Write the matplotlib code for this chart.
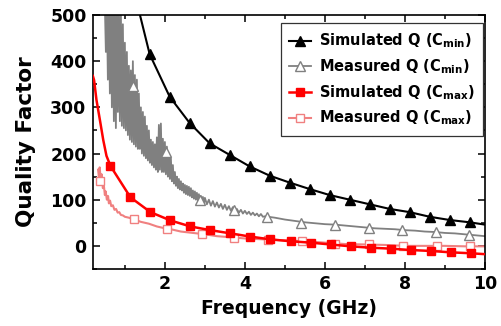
import matplotlib
matplotlib.use("Agg")
import matplotlib.pyplot as plt
from matplotlib.ticker import MultipleLocator

plt.rcParams['font.family'] = ['DejaVu Sans']
plt.rcParams['font.weight'] = 'bold'
plt.rcParams['mathtext.fontset'] = 'custom'
plt.rcParams['mathtext.rm'] = 'DejaVu Sans:bold'
plt.rcParams['mathtext.bf'] = 'DejaVu Sans:bold'
plt.rcParams['mathtext.it'] = 'DejaVu Sans:bold'

# ---- Simulated Q (Cmin): black filled triangles
sim_cmin_f = [1.12, 1.62, 2.12, 2.62, 3.12, 3.62, 4.12, 4.62, 5.12, 5.62, 6.12,
              6.62, 7.12, 7.62, 8.12, 8.62, 9.12, 9.62]
sim_cmin_q = [590, 415, 323, 266, 222, 197, 172, 152, 137, 123, 110,
              100, 90, 80, 73, 63, 56, 51]
sim_cmin_end_f = [10.0]
sim_cmin_end_q = [46]

# ---- Measured Q (Cmin): gray noisy trace (upper/lower swing per step)
meas_cmin_noisy_f = [0.50, 0.55, 0.60, 0.65, 0.70, 0.75, 0.80, 0.85, 0.90, 0.95,
                     1.00, 1.05, 1.10, 1.15, 1.20, 1.25, 1.30, 1.35, 1.40, 1.45,
                     1.50, 1.55, 1.60, 1.65, 1.70, 1.75, 1.80, 1.85, 1.90, 1.95,
                     2.00, 2.05, 2.10, 2.15, 2.20, 2.25, 2.30, 2.35, 2.40, 2.45,
                     2.50, 2.55, 2.60, 2.65, 2.70, 2.75, 2.80, 2.85, 2.90, 2.95]
meas_cmin_hi = [520, 520, 520, 520, 520, 520, 520, 520, 510, 480,
                440, 420, 390, 380, 400, 370, 360, 330, 300, 290,
                280, 260, 250, 230, 225, 220, 235, 262, 265, 232,
                225, 215, 200, 190, 175, 160, 150, 145, 140, 135,
                132, 130, 128, 125, 120, 118, 115, 112, 108, 106]
meas_cmin_lo = [420, 360, 330, 300, 270, 255, 290, 270, 260, 255,
                250, 240, 230, 225, 220, 215, 210, 210, 200, 195,
                190, 185, 180, 175, 170, 165, 160, 165, 160, 160,
                155, 150, 145, 140, 135, 130, 125, 122, 120, 115,
                112, 110, 108, 105, 102, 100, 98, 96, 94, 92]
meas_cmin_mid_f = [3.0, 3.1, 3.2, 3.3, 3.4, 3.5, 3.6, 3.7, 3.8, 3.9, 4.0, 4.1, 4.2, 4.3, 4.4]
meas_cmin_mid_hi = [104, 100, 97, 94, 91, 89, 86, 84, 80, 78, 76, 74, 72, 70, 69]
meas_cmin_mid_lo = [90, 87, 85, 83, 80, 78, 76, 74, 72, 70, 69, 67, 66, 64, 63]
meas_cmin_tail_f = [4.5, 4.75, 5.0, 5.25, 5.5, 5.75, 6.0, 6.25, 6.5, 6.75, 7.0, 7.25,
                    7.5, 7.75, 8.0, 8.25, 8.5, 8.75, 9.0, 9.25, 9.5, 9.75, 10.0]
meas_cmin_tail_q = [64, 61, 57, 54, 51, 49, 47, 46, 44, 42, 40, 38,
                    37, 36, 34, 33, 31, 30, 28, 27, 25, 23, 21]
meas_cmin_mk_f = [1.20, 2.04, 2.88, 3.72, 4.56, 5.41, 6.25, 7.09, 7.93, 8.77, 9.61]
meas_cmin_mk_q = [346, 203, 100, 77, 62, 50, 46, 38, 35, 30, 24]

# ---- Simulated Q (Cmax): red filled squares
sim_cmax_line_f = [0.20, 0.23, 0.29, 0.375, 0.46, 0.54]
sim_cmax_line_q = [368, 359, 316, 273, 229, 195]
sim_cmax_f = [0.64, 1.14, 1.64, 2.14, 2.64, 3.14, 3.64, 4.14, 4.64, 5.14, 5.64,
              6.14, 6.64, 7.14, 7.64, 8.14, 8.64, 9.14, 9.64]
sim_cmax_q = [173, 105, 73, 55, 42, 34, 27, 20, 14, 10, 7,
              3, -1, -4, -6, -9, -11, -14, -16]
sim_cmax_end_f = [10.0]
sim_cmax_end_q = [-18]

# ---- Measured Q (Cmax): light red trace with open squares
meas_cmax_f = [0.33, 0.35, 0.37, 0.40, 0.42, 0.45, 0.47, 0.50, 0.52, 0.55, 0.58,
               0.60, 0.63, 0.66, 0.70, 0.74, 0.78, 0.82, 0.86, 0.90, 0.95, 1.0,
               1.1, 1.2, 1.3, 1.4, 1.5, 1.6, 1.7, 1.8, 1.9, 2.0, 2.2, 2.4, 2.6,
               2.8, 3.0, 3.3, 3.6, 4.0, 4.5, 5.0, 5.5, 6.0, 6.5, 7.0, 7.5, 8.0,
               8.5, 9.0, 9.5, 10.0]
meas_cmax_q = [165, 150, 170, 140, 155, 125, 135, 110, 118, 100, 108,
               92, 98, 86, 88, 78, 80, 72, 73, 67, 66, 63,
               61, 58, 55, 52, 50, 48, 45, 42, 40, 38, 35, 31, 29,
               27, 25, 21, 19, 16, 14, 12, 10, 7, 4, 3, 2, 0,
               0, 0, -1, -1]
meas_cmax_mk_f = [0.39, 1.23, 2.06, 2.92, 3.72, 4.58, 5.42, 6.25, 7.10, 7.94, 8.79, 9.62]
meas_cmax_mk_q = [141, 58, 37, 25, 17, 13, 10, 5, 3, 0, 0, -1]

legend_labels = [r'Simulated Q (C$_{\mathbf{min}}$)', r'Measured Q (C$_{\mathbf{min}}$)',
                 r'Simulated Q (C$_{\mathbf{max}}$)', r'Measured Q (C$_{\mathbf{max}}$)']
xticks = [2, 4, 6, 8, 10]
yticks = [0, 100, 200, 300, 400, 500]

# build gray trace by alternating the read upper/lower swings
g_f, g_q = [], []
for f, h, l in zip(meas_cmin_noisy_f, meas_cmin_hi, meas_cmin_lo):
    g_f += [f, f + 0.025]
    g_q += [h, l]
for f, h, l in zip(meas_cmin_mid_f, meas_cmin_mid_hi, meas_cmin_mid_lo):
    g_f += [f, f + 0.05]
    g_q += [h, l]
g_f += meas_cmin_tail_f
g_q += meas_cmin_tail_q

BLACK = '#000000'
GRAY = '#808080'
RED = '#ff0000'
PINK = '#f08080'

fig = plt.figure(figsize=(5.02, 3.26), dpi=100)
ax = fig.add_axes([0.185, 0.175, 0.781, 0.779])

# measured Cmin
ax.plot(g_f, g_q, color=GRAY, lw=1.3, zorder=2)
ax.plot(meas_cmin_mk_f, meas_cmin_mk_q, ls='none', marker='^', ms=6.5,
        mfc='white', mec=GRAY, mew=1.0, zorder=3)
# measured Cmax
ax.plot(meas_cmax_f, meas_cmax_q, color=PINK, lw=1.5, zorder=2)
ax.plot(meas_cmax_mk_f, meas_cmax_mk_q, ls='none', marker='s', ms=5.5,
        mfc='white', mec=PINK, mew=1.0, zorder=3)
# simulated Cmin
ax.plot(sim_cmin_f + sim_cmin_end_f, sim_cmin_q + sim_cmin_end_q, color=BLACK, lw=1.5, zorder=4)
ax.plot(sim_cmin_f, sim_cmin_q, ls='none', marker='^', ms=6.5, color=BLACK, zorder=5)
# simulated Cmax
ax.plot(sim_cmax_line_f + sim_cmax_f + sim_cmax_end_f,
        sim_cmax_line_q + sim_cmax_q + sim_cmax_end_q, color=RED, lw=1.8, zorder=4)
ax.plot(sim_cmax_f, sim_cmax_q, ls='none', marker='s', ms=5.5, color=RED, zorder=5)

# legend proxies
h1, = ax.plot([], [], color=BLACK, lw=1.5, marker='^', ms=6.5)
h2, = ax.plot([], [], color=GRAY, lw=1.3, marker='^', ms=6.5, mfc='white', mec=GRAY)
h3, = ax.plot([], [], color=RED, lw=1.8, marker='s', ms=5.5)
h4, = ax.plot([], [], color=PINK, lw=1.5, marker='s', ms=5.5, mfc='white', mec=PINK)
leg = ax.legend([h1, h2, h3, h4], legend_labels,
                loc='upper right', bbox_to_anchor=(0.995, 0.969), borderaxespad=0,
                fancybox=False, edgecolor='#333333', framealpha=1,
                prop={'size': 10.5, 'weight': 'bold'},
                handlelength=1.5, handletextpad=0.5, labelspacing=0.48,
                borderpad=0.6)
leg.get_frame().set_linewidth(0.9)

ax.set_xlim(0.2, 10)
ax.set_ylim(-50, 500)
ax.set_xticks(xticks)
ax.set_yticks(yticks)
ax.xaxis.set_minor_locator(MultipleLocator(1))
ax.yaxis.set_minor_locator(MultipleLocator(50))
ax.tick_params(which='both', direction='in', top=True, right=True, width=1.1)
ax.tick_params(which='major', length=5, labelsize=12.5, pad=4.5)
ax.tick_params(which='minor', length=3)
for lab in ax.get_xticklabels() + ax.get_yticklabels():
    lab.set_fontweight('bold')
for s in ax.spines.values():
    s.set_linewidth(1.2)

ax.set_xlabel('Frequency (GHz)', fontsize=13.5, fontweight='bold', labelpad=4)
ax.set_ylabel('Quality Factor', fontsize=15.5, fontweight='bold', labelpad=10)

fig.savefig('out.png', dpi=100)
